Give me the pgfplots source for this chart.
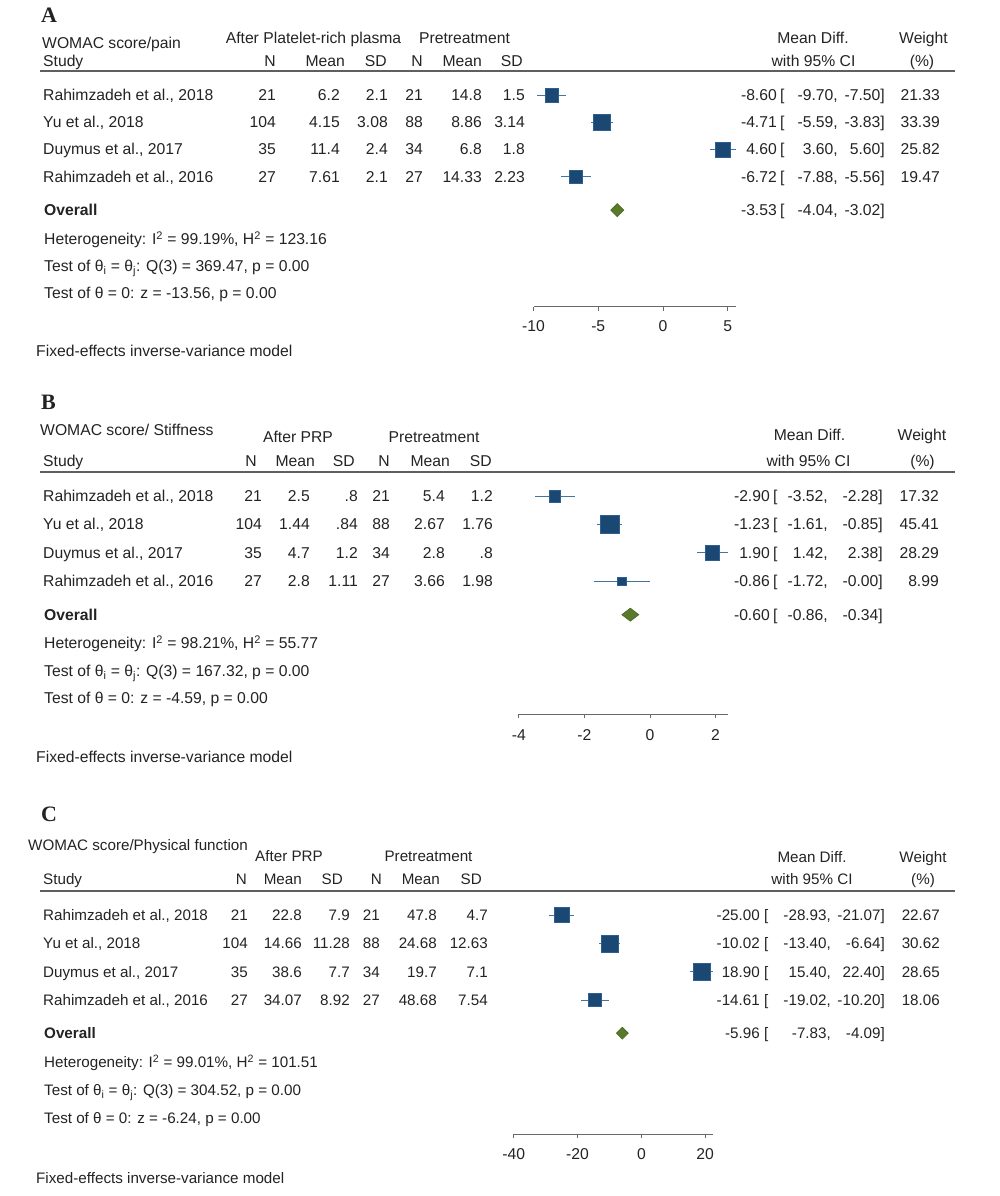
\documentclass[border=0pt]{standalone}
\usepackage{fontspec}
\setmainfont{Liberation Sans}
\newfontfamily\panelfont{Liberation Serif}
\usepackage{pgfplots}
\usepackage{pgfplotstable}
\pgfplotsset{compat=1.18}

\definecolor{txt}{RGB}{35,35,35}
\definecolor{sqfill}{RGB}{27,72,115}
\definecolor{sqedge}{RGB}{45,95,145}
\definecolor{ciblue}{RGB}{70,115,160}
\definecolor{dgreen}{RGB}{88,122,42}
\definecolor{dgreenedge}{RGB}{72,102,32}
\definecolor{axgray}{RGB}{105,105,105}
\definecolor{rulegray}{RGB}{95,95,95}

\newcommand\fA{\fontsize{15.7bp}{18bp}\selectfont}
\newcommand\fC{\fontsize{15.2bp}{18bp}\selectfont}
\newcommand\fP{\panelfont\bfseries\fontsize{22bp}{26bp}\selectfont}

% y = -row ; est, lower, upper, weight
\pgfplotstableread{
y est lo hi w
-1 -8.60 -9.70 -7.50 21.33
-2 -4.71 -5.59 -3.83 33.39
-3 4.60 3.60 5.60 25.82
-4 -6.72 -7.88 -5.56 19.47
}\dataA
\pgfplotstableread{
y est lo hi w
-1 -2.90 -3.52 -2.28 17.32
-2 -1.23 -1.61 -0.85 45.41
-3 1.90 1.42 2.38 28.29
-4 -0.86 -1.72 -0.00 8.99
}\dataB
\pgfplotstableread{
y est lo hi w
-1 -25.00 -28.93 -21.07 22.67
-2 -10.02 -13.40 -6.64 30.62
-3 18.90 15.40 22.40 28.65
-4 -14.61 -19.02 -10.20 18.06
}\dataC

\pgfplotsset{forest/.style={scale only axis, anchor=south west, ymax=0, clip=false,
  axis x line=bottom, axis y line=none,
  x axis line style={-, draw=axgray, line width=0.9bp},
  tick align=outside, major tick length=4bp,
  xtick style={draw=axgray, line width=0.9bp},
  xticklabel style={font=\fA, text=txt, inner sep=0pt, anchor=base}}}

\pgfplotsset{ci/.style={only marks, mark=none,
  error bars/.cd, x dir=both, x explicit, error mark=none,
  error bar style={draw=ciblue, line width=1bp}}}
\pgfplotsset{sq/.style={scatter, only marks, mark=square*,
  scatter/use mapped color={draw=sqedge, fill=sqfill},
  visualization depends on={#1*sqrt(\thisrow{w}) \as \ms},
  scatter/@pre marker code/.append style={/tikz/mark size=\ms},
  mark options={line width=0.6bp}}}

% column positions
\newcommand\setcols[6]{\def\cN{#1}\def\cM{#2}\def\cS{#3}\def\cNN{#4}\def\cMM{#5}\def\cSS{#6}}
\newcommand\setci[5]{\def\cE{#1}\def\cB{#2}\def\cL{#3}\def\cU{#4}\def\cW{#5}}
\newcommand\studyrow[8]{%
  \node[anchor=base west] at (43bp,-#1bp) {#2};
  \node[anchor=base east] at (\cN bp,-#1bp) {#3};
  \node[anchor=base east] at (\cM bp,-#1bp) {#4};
  \node[anchor=base east] at (\cS bp,-#1bp) {#5};
  \node[anchor=base east] at (\cNN bp,-#1bp) {#6};
  \node[anchor=base east] at (\cMM bp,-#1bp) {#7};
  \node[anchor=base east] at (\cSS bp,-#1bp) {#8};}
\newcommand\cirow[5]{%
  \node[anchor=base east] at (\cE bp,-#1bp) {#2};
  \node[anchor=base west] at (\cB bp,-#1bp) {[};
  \node[anchor=base east] at (\cL bp,-#1bp) {#3,};
  \node[anchor=base east] at (\cU bp,-#1bp) {#4]};
  \node[anchor=base east] at (\cW bp,-#1bp) {#5};}
\newcommand\hdr[7]{% baseline, N, Mean, SD, N, Mean, SD x-positions
  \node[anchor=base west] at (43bp,-#1bp) {Study};
  \node[anchor=base east] at (#2bp,-#1bp) {N};
  \node[anchor=base east] at (#3bp,-#1bp) {Mean};
  \node[anchor=base east] at (#4bp,-#1bp) {SD};
  \node[anchor=base east] at (#5bp,-#1bp) {N};
  \node[anchor=base east] at (#6bp,-#1bp) {Mean};
  \node[anchor=base east] at (#7bp,-#1bp) {SD};}

\begin{document}
\begin{tikzpicture}
\path[use as bounding box] (0,0) rectangle (1000bp,-1196bp);

% ---------------- Panel A ----------------
\begin{axis}[forest, at={(533.5bp,-306.7bp)}, width=202bp, height=238.8bp,
  xmin=-10, xmax=5.6, ymin=-8.78,
  xtick={-10,-5,0,5}, xticklabels={-10,-5,0,5},
  xticklabel style={yshift=-21bp}]
\addplot[ci] table[x=est, y=y, x error minus expr=\thisrow{est}-\thisrow{lo}, x error plus expr=\thisrow{hi}-\thisrow{est}] {\dataA};
\addplot[sq=1.46] table[x=est, y=y] {\dataA};
\addplot[fill=dgreen, draw=dgreenedge, line width=0.6bp] coordinates {(-4.04,-5.23) (-3.53,-4.99) (-3.02,-5.23) (-3.53,-5.47)} -- cycle;
\end{axis}

% ---------------- Panel B ----------------
\begin{axis}[forest, at={(518.9bp,-714bp)}, width=209.1bp, height=246.2bp,
  xmin=-4, xmax=2.38, ymin=-8.70,
  xtick={-4,-2,0,2}, xticklabels={-4,-2,0,2},
  xticklabel style={yshift=-22.5bp}]
\addplot[ci] table[x=est, y=y, x error minus expr=\thisrow{est}-\thisrow{lo}, x error plus expr=\thisrow{hi}-\thisrow{est}] {\dataB};
\addplot[sq=1.38] table[x=est, y=y] {\dataB};
\addplot[fill=dgreen, draw=dgreenedge, line width=0.6bp] coordinates {(-0.86,-5.19) (-0.60,-4.96) (-0.34,-5.19) (-0.60,-5.42)} -- cycle;
\end{axis}

% ---------------- Panel C ----------------
\begin{axis}[forest, at={(513.8bp,-1134.3bp)}, width=199bp, height=247.6bp,
  xmin=-40, xmax=22.4, ymin=-8.74,
  xtick={-40,-20,0,20}, xticklabels={-40,-20,0,20},
  xticklabel style={yshift=-21bp}]
\addplot[ci] table[x=est, y=y, x error minus expr=\thisrow{est}-\thisrow{lo}, x error plus expr=\thisrow{hi}-\thisrow{est}] {\dataC};
\addplot[sq=1.55] table[x=est, y=y] {\dataC};
\addplot[fill=dgreen, draw=dgreenedge, line width=0.6bp] coordinates {(-7.83,-5.17) (-5.96,-4.96) (-4.09,-5.17) (-5.96,-5.38)} -- cycle;
\end{axis}

% ---------------- Texts ----------------
\begin{scope}[every node/.style={inner sep=0pt, text=txt, font=\fA}]
% Panel A
\node[anchor=base west, font=\fP] at (41bp,-22bp) {A};
\node[anchor=base west] at (42bp,-48.5bp) {WOMAC score/pain};
\node[anchor=base] at (313.5bp,-43.5bp) {After Platelet-rich plasma};
\node[anchor=base] at (464.5bp,-43.5bp) {Pretreatment};
\node[anchor=base] at (813bp,-43.5bp) {Mean Diff.};
\node[anchor=base] at (923.5bp,-43.5bp) {Weight};
\hdr{66}{276}{345}{387}{423}{482}{523}
\node[anchor=base] at (813.5bp,-66bp) {with 95\% CI};
\node[anchor=base] at (922bp,-66bp) {(\%)};
\draw[rulegray, line width=1.5bp] (40bp,-71bp) -- (955bp,-71bp);
\setcols{276}{340}{388}{423}{482}{525}
\setci{777}{780}{838}{885}{940}
\studyrow{100.5}{Rahimzadeh et al., 2018}{21}{6.2}{2.1}{21}{14.8}{1.5}
\studyrow{127.7}{Yu et al., 2018}{104}{4.15}{3.08}{88}{8.86}{3.14}
\studyrow{154.9}{Duymus et al., 2017}{35}{11.4}{2.4}{34}{6.8}{1.8}
\studyrow{182.1}{Rahimzadeh et al., 2016}{27}{7.61}{2.1}{27}{14.33}{2.23}
\cirow{100.5}{-8.60}{-9.70}{-7.50}{21.33}
\cirow{127.7}{-4.71}{-5.59}{-3.83}{33.39}
\cirow{154.9}{4.60}{3.60}{5.60}{25.82}
\cirow{182.1}{-6.72}{-7.88}{-5.56}{19.47}
\node[anchor=base west] at (44bp,-215.5bp) {\bfseries Overall};
\cirow{215.5}{-3.53}{-4.04}{-3.02}{}
\node[anchor=base west] at (44bp,-244.5bp) {Heterogeneity: I\textsuperscript{2} = 99.19\%, H\textsuperscript{2} = 123.16};
\node[anchor=base west] at (44bp,-271.5bp) {Test of θ\textsubscript{i} = θ\textsubscript{j}: Q(3) = 369.47, p = 0.00};
\node[anchor=base west] at (44bp,-298.5bp) {Test of θ = 0: z = -13.56, p = 0.00};
\node[anchor=base west] at (36bp,-356.5bp) {Fixed-effects inverse-variance model};

% Panel B
\node[anchor=base west, font=\fP] at (41bp,-409bp) {B};
\node[anchor=base west] at (40bp,-435.5bp) {WOMAC score/ Stiffness};
\node[anchor=base] at (298bp,-442.5bp) {After PRP};
\node[anchor=base] at (434bp,-442.5bp) {Pretreatment};
\node[anchor=base] at (809.5bp,-440.5bp) {Mean Diff.};
\node[anchor=base] at (922bp,-440.5bp) {Weight};
\hdr{466.5}{257}{315}{355}{390}{450}{492}
\node[anchor=base] at (808.5bp,-466.5bp) {with 95\% CI};
\node[anchor=base] at (922.5bp,-466.5bp) {(\%)};
\draw[rulegray, line width=1.5bp] (40bp,-472bp) -- (955bp,-472bp);
\setcols{262}{310}{358}{390}{445}{493}
\setci{770}{773}{828}{883}{939}
\studyrow{501.5}{Rahimzadeh et al., 2018}{21}{2.5}{.8}{21}{5.4}{1.2}
\studyrow{529.8}{Yu et al., 2018}{104}{1.44}{.84}{88}{2.67}{1.76}
\studyrow{558.1}{Duymus et al., 2017}{35}{4.7}{1.2}{34}{2.8}{.8}
\studyrow{586.4}{Rahimzadeh et al., 2016}{27}{2.8}{1.11}{27}{3.66}{1.98}
\cirow{501.5}{-2.90}{-3.52}{-2.28}{17.32}
\cirow{529.8}{-1.23}{-1.61}{-0.85}{45.41}
\cirow{558.1}{1.90}{1.42}{2.38}{28.29}
\cirow{586.4}{-0.86}{-1.72}{-0.00}{8.99}
\node[anchor=base west] at (44bp,-620bp) {\bfseries Overall};
\cirow{620}{-0.60}{-0.86}{-0.34}{}
\node[anchor=base west] at (44bp,-648.5bp) {Heterogeneity: I\textsuperscript{2} = 98.21\%, H\textsuperscript{2} = 55.77};
\node[anchor=base west] at (44bp,-676bp) {Test of θ\textsubscript{i} = θ\textsubscript{j}: Q(3) = 167.32, p = 0.00};
\node[anchor=base west] at (44bp,-703.5bp) {Test of θ = 0: z = -4.59, p = 0.00};
\node[anchor=base west] at (36bp,-762.5bp) {Fixed-effects inverse-variance model};
\end{scope}

\begin{scope}[every node/.style={inner sep=0pt, text=txt, font=\fC}]
% Panel C
\node[anchor=base west, font=\fP] at (41bp,-821bp) {C};
\node[anchor=base west] at (28bp,-850.5bp) {WOMAC score/Physical function};
\node[anchor=base] at (289bp,-861bp) {After PRP};
\node[anchor=base] at (428.5bp,-861bp) {Pretreatment};
\node[anchor=base] at (812bp,-862.5bp) {Mean Diff.};
\node[anchor=base] at (923bp,-862.5bp) {Weight};
\hdr{884.5}{247}{302}{343}{382}{440}{482}
\node[anchor=base] at (812bp,-884.5bp) {with 95\% CI};
\node[anchor=base] at (923bp,-884.5bp) {(\%)};
\draw[rulegray, line width=1.5bp] (40bp,-891bp) -- (955bp,-891bp);
\setcols{248}{302}{350}{380}{437}{488}
\setci{760}{764}{831}{885}{940}
\studyrow{920.5}{Rahimzadeh et al., 2018}{21}{22.8}{7.9}{21}{47.8}{4.7}
\studyrow{948.9}{Yu et al., 2018}{104}{14.66}{11.28}{88}{24.68}{12.63}
\studyrow{977.3}{Duymus et al., 2017}{35}{38.6}{7.7}{34}{19.7}{7.1}
\studyrow{1005.7}{Rahimzadeh et al., 2016}{27}{34.07}{8.92}{27}{48.68}{7.54}
\cirow{920.5}{-25.00}{-28.93}{-21.07}{22.67}
\cirow{948.9}{-10.02}{-13.40}{-6.64}{30.62}
\cirow{977.3}{18.90}{15.40}{22.40}{28.65}
\cirow{1005.7}{-14.61}{-19.02}{-10.20}{18.06}
\node[anchor=base west] at (44bp,-1038.5bp) {\bfseries Overall};
\cirow{1038.5}{-5.96}{-7.83}{-4.09}{}
\node[anchor=base west] at (44bp,-1067.5bp) {Heterogeneity: I\textsuperscript{2} = 99.01\%, H\textsuperscript{2} = 101.51};
\node[anchor=base west] at (44bp,-1095.5bp) {Test of θ\textsubscript{i} = θ\textsubscript{j}: Q(3) = 304.52, p = 0.00};
\node[anchor=base west] at (44bp,-1123.5bp) {Test of θ = 0: z = -6.24, p = 0.00};
\node[anchor=base west] at (36bp,-1183.5bp) {Fixed-effects inverse-variance model};
\end{scope}
\end{tikzpicture}
\end{document}
